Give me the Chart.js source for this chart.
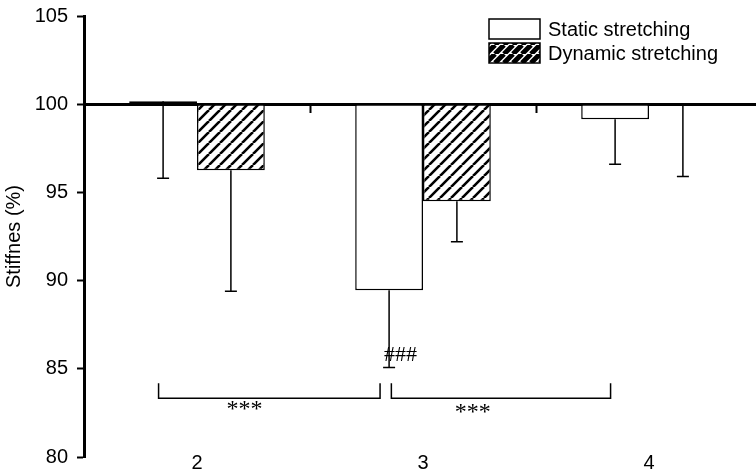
<!DOCTYPE html>
<html>
<head>
<meta charset="utf-8">
<script src="https://cdn.jsdelivr.net/npm/chart.js@4/dist/chart.umd.min.js"></script>
<style>
  body { margin: 0; background: #fff; }
  #wrap { width: 756px; height: 470px; overflow: hidden; }
</style>
</head>
<body>
<div id="wrap"><canvas id="stiffChart" width="762" height="470"></canvas></div>
<script>
'use strict'

const categories = ['2', '3', '4'];
const seriesNames = ['Static stretching', 'Dynamic stretching'];
const staticValues = [100.17, 89.45, 99.15];
const dynamicValues = [96.26, 94.5, 99.9];
const staticErrorEnds = [95.8, 85.07, 96.6];
const dynamicErrorEnds = [89.4, 92.2, 95.9];
const yTicks = [80, 85, 90, 95, 100, 105];
const baseline = 100;

// significance brackets (x in category index units, y in %)
const brackets = [
    { from: -0.17, to: 0.81, top: 84.18, bottom: 83.33, label: '***', labelAt: 0.21, labelY: 82.7 },
    { from: 0.86, to: 1.83, top: 84.18, bottom: 83.33, label: '***', labelAt: 1.22, labelY: 82.5 }
];
const hashMark = { text: '###', at: 0.9, y: 85.77 };

const canvas = document.getElementById('stiffChart');
const mainCtx = canvas.getContext('2d');

function makeHatch(size, lineWidth) {
    const c = document.createElement('canvas');
    c.width = size;
    c.height = size;
    const g = c.getContext('2d');
    g.fillStyle = '#fff';
    g.fillRect(0, 0, size, size);
    g.strokeStyle = '#000';
    g.lineWidth = lineWidth;
    g.beginPath();
    for (let k = -1; k <= 1; k++) {
        g.moveTo(k * size, size);
        g.lineTo(k * size + size, 0);
    }
    g.stroke();
    return mainCtx.createPattern(c, 'repeat');
}

const barHatch = makeHatch(11, 2.6);
const legendHatch = makeHatch(9, 5);

Chart.defaults.font.family = '"Liberation Sans", Arial, sans-serif';
Chart.defaults.font.size = 20;
Chart.defaults.color = '#000';

const errorBars = {
    id: 'errorBars',
    afterDatasetsDraw(chart) {
        const ctx = chart.ctx;
        const ys = chart.scales.y;
        const sets = [[staticValues, staticErrorEnds], [dynamicValues, dynamicErrorEnds]];
        ctx.save();
        ctx.strokeStyle = '#000';
        ctx.lineWidth = 1.5;
        sets.forEach(([vals, ends], i) => {
            chart.getDatasetMeta(i).data.forEach((bar, j) => {
                const y0 = ys.getPixelForValue(vals[j]);
                const y1 = ys.getPixelForValue(ends[j]);
                ctx.beginPath();
                ctx.moveTo(bar.x, y0);
                ctx.lineTo(bar.x, y1);
                ctx.moveTo(bar.x - 6, y1);
                ctx.lineTo(bar.x + 6, y1);
                ctx.stroke();
            });
        });
        ctx.restore();
    }
};

const annotations = {
    id: 'annotations',
    afterDraw(chart) {
        const ctx = chart.ctx;
        const xs = chart.scales.x;
        const ys = chart.scales.y;
        const area = chart.chartArea;
        ctx.save();
        ctx.strokeStyle = '#000';
        ctx.fillStyle = '#000';
        ctx.lineWidth = 1.5;

        // brackets
        ctx.textAlign = 'center';
        ctx.textBaseline = 'middle';
        brackets.forEach(b => {
            const x1 = xs.getPixelForValue(b.from);
            const x2 = xs.getPixelForValue(b.to);
            const yt = ys.getPixelForValue(b.top);
            const yb = ys.getPixelForValue(b.bottom);
            ctx.beginPath();
            ctx.moveTo(x1, yt);
            ctx.lineTo(x1, yb);
            ctx.lineTo(x2, yb);
            ctx.lineTo(x2, yt);
            ctx.stroke();
            ctx.font = '24px "Liberation Serif", serif';
            ctx.fillText(b.label, xs.getPixelForValue(b.labelAt), ys.getPixelForValue(b.labelY));
        });
        ctx.font = '22px "Liberation Serif", serif';
        ctx.fillText(hashMark.text, xs.getPixelForValue(hashMark.at), ys.getPixelForValue(hashMark.y));

        // category labels along the bottom
        ctx.font = '20px "Liberation Sans", Arial, sans-serif';
        categories.forEach((c, i) => {
            ctx.fillText(c, xs.getPixelForValue(i), area.bottom + 6);
        });

        // legend
        const fills = ['#fff', legendHatch];
        ctx.textAlign = 'left';
        seriesNames.forEach((name, i) => {
            const top = 19 + i * 24;
            ctx.fillStyle = fills[i];
            ctx.fillRect(489, top, 51, 20);
            ctx.lineWidth = 1.5;
            ctx.strokeRect(489, top, 51, 20);
            ctx.fillStyle = '#000';
            ctx.fillText(name, 548, top + 11);
        });
        ctx.restore();
    }
};

new Chart(canvas, {
    type: 'bar',
    data: {
        labels: categories,
        datasets: [
            {
                label: seriesNames[0],
                data: staticValues.map(v => [baseline, v]),
                backgroundColor: '#fff',
                borderColor: '#000',
                borderWidth: 1.5,
                borderSkipped: false
            },
            {
                label: seriesNames[1],
                data: dynamicValues.map(v => [baseline, v]),
                backgroundColor: barHatch,
                borderColor: '#000',
                borderWidth: 1.5,
                borderSkipped: false
            }
        ]
    },
    options: {
        responsive: false,
        animation: false,
        categoryPercentage: 0.6,
        barPercentage: 1.0,
        layout: { autoPadding: false, padding: { top: 16, bottom: 13, left: 0, right: 0 } },
        plugins: {
            legend: { display: false },
            tooltip: { enabled: false }
        },
        events: [],
        scales: {
            x: {
                position: { y: baseline },
                grid: { drawOnChartArea: false, tickLength: 7, tickWidth: 2, tickColor: '#000', offset: true },
                border: { color: '#000', width: 3 },
                ticks: { display: false },
                afterFit: (scale) => {
                    scale.height = 0;
                    scale.paddingLeft = 0;
                    scale.paddingRight = 0;
                }
            },
            y: {
                min: yTicks[0],
                max: yTicks[yTicks.length - 1],
                ticks: { stepSize: 5, padding: 9 },
                grid: { drawOnChartArea: false, tickLength: 7, tickWidth: 2, tickColor: '#000' },
                border: { color: '#000', width: 3 },
                title: { display: true, text: 'Stiffnes (%)', padding: { top: 2, bottom: 0 } },
                afterFit: (scale) => {
                    scale.width = 84;
                    scale.paddingTop = 0;
                    scale.paddingBottom = 0;
                }
            }
        }
    },
    plugins: [errorBars, annotations]
});
</script>
</body>
</html>
